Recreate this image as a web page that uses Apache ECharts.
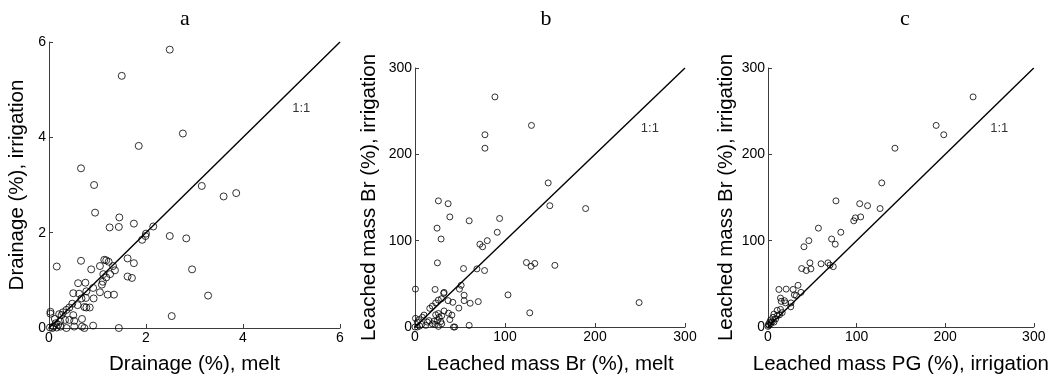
<!DOCTYPE html>
<html>
<head>
<meta charset="utf-8">
<script src="https://cdn.jsdelivr.net/npm/echarts@6/dist/echarts.min.js"></script>
<style>
  html, body { margin: 0; padding: 0; background: #fff; }
  #chart { width: 1052px; height: 380px; }
</style>
</head>
<body>
<div id="chart"></div>
<script>
// panel a: drainage (%)
var drainMelt = [2.49, 1.50, 2.76, 1.85, 0.66, 0.93, 3.15, 3.60, 3.86, 0.95, 1.45, 1.44, 1.25, 1.75, 2.15, 2.00, 1.99, 1.92, 2.49, 2.83,
    2.95, 3.28, 2.53, 1.44, 0.16, 0.66, 1.14, 1.18, 1.23, 1.05, 0.87, 1.32, 1.36, 1.26, 1.12, 1.18, 1.11, 1.09, 1.62, 1.75,
    1.62, 1.71, 0.60, 0.75, 0.91, 0.77, 1.05, 1.21, 1.34, 0.50, 0.62, 0.67, 0.76, 0.92, 0.48, 0.59, 0.73, 0.77, 0.84, 0.42,
    0.36, 0.29, 0.26, 0.21, 0.03, 0.03, 0.50, 0.42, 0.52, 0.68, 0.33, 0.23, 0.12, 0.14, 0.19, 0.09, 0.02, 0.07, 0.36, 0.52,
    0.68, 0.73, 0.91, 0.24, 0.16];
var drainIrr = [5.84, 5.29, 4.08, 3.82, 3.35, 3.00, 2.98, 2.76, 2.83, 2.42, 2.32, 2.12, 2.11, 2.19, 2.13, 1.98, 1.93, 1.85, 1.93, 1.88,
    1.23, 0.68, 0.25, 0.00, 1.29, 1.41, 1.43, 1.42, 1.39, 1.30, 1.23, 1.30, 1.21, 1.13, 1.13, 1.06, 0.97, 0.91, 1.46, 1.36,
    1.08, 1.05, 0.94, 0.95, 0.84, 0.77, 0.75, 0.70, 0.70, 0.73, 0.72, 0.62, 0.63, 0.62, 0.51, 0.48, 0.44, 0.43, 0.43, 0.43,
    0.38, 0.33, 0.27, 0.29, 0.34, 0.30, 0.27, 0.17, 0.15, 0.19, 0.17, 0.14, 0.19, 0.10, 0.07, 0.03, 0.01, 0.00, 0.00, 0.03,
    0.03, 0.00, 0.05, 0.03, 0.01];

// panel b: leached mass Br (%), melt vs irrigation
var brMelt = [88.8, 129.4, 77.7, 77.7, 148.0, 149.8, 189.6, 26.0, 36.8, 38.7, 60.2, 94.0, 24.5, 91.4, 29.0, 80.3, 72.1, 75.1, 24.9, 53.9,
    68.8, 77.3, 123.8, 133.1, 129.0, 155.4, 0.5, 22.3, 49.4, 51.3, 32.3, 31.9, 26.0, 29.4, 36.8, 42.0, 54.6, 54.6, 61.3, 70.3,
    103.3, 249.0, 127.5, 48.7, 60.2, 0.5, 23.0, 19.3, 16.4, 10.0, 8.2, 4.5, 2.6, 0.0, 2.6, 5.2, 7.4, 11.9, 13.8, 15.6,
    19.3, 23.0, 26.0, 26.8, 29.7, 32.3, 37.2, 41.0, 38.7, 24.9, 28.6, 29.7, 26.0, 42.8, 44.2, 22.3, 21.2];
var brIrrB = [266.5, 233.5, 222.7, 207.1, 166.9, 140.5, 137.2, 146.1, 142.8, 127.5, 123.0, 125.7, 114.5, 109.7, 101.9, 100.0, 95.9, 92.9, 74.3, 67.7,
    67.3, 65.4, 74.7, 73.6, 70.3, 71.4, 43.9, 43.5, 43.9, 48.3, 40.1, 39.0, 31.2, 32.7, 30.5, 28.6, 36.8, 30.5, 27.5, 29.4,
    37.2, 28.3, 16.4, 21.9, 1.9, 10.0, 27.9, 24.2, 21.6, 13.8, 11.2, 8.6, 5.6, 0.0, 0.0, 1.1, 3.0, 1.9, 5.6, 7.4,
    3.7, 14.1, 15.6, 11.2, 13.0, 18.6, 16.0, 13.8, 8.6, 7.4, 6.3, 3.7, 0.7, 0.0, 0.0, 3.0, 6.7];

// panel c: leached mass PG (%) vs Br (%), irrigation
var pgIrr = [231.5, 189.8, 198.4, 143.3, 128.4, 76.7, 103.5, 112.4, 126.5, 104.6, 98.6, 96.8, 56.9, 82.2, 46.1, 71.8, 75.9, 40.6, 47.3, 59.9,
    67.7, 70.0, 73.7, 38.0, 43.2, 48.4, 12.3, 20.5, 28.3, 33.9, 37.2, 29.8, 32.0, 14.1, 14.9, 18.6, 26.0, 25.7, 19.7, 14.1,
    10.4, 13.0, 6.7, 5.6, 3.0, 1.9, 0.4, 0.0, 4.8, 8.6, 10.4, 16.0, 1.1, 3.0, 6.7];
var brIrrC = [266.5, 233.5, 222.7, 207.1, 166.9, 146.1, 142.8, 140.5, 137.2, 127.5, 126.4, 123.0, 114.5, 109.7, 100.0, 101.9, 95.9, 92.9, 74.3, 73.2,
    74.3, 71.7, 69.9, 67.7, 65.4, 67.3, 43.5, 43.9, 43.5, 48.3, 40.1, 37.2, 36.4, 33.5, 29.7, 30.5, 27.9, 23.4, 27.9, 20.4,
    19.3, 14.1, 14.9, 11.2, 8.2, 5.6, 3.0, 0.7, 6.3, 9.3, 13.0, 16.7, 1.9, 3.7, 5.6];

var ticksA = [0, 2, 4, 6];
var ticksBC = [0, 100, 200, 300];
var panelTitles = ['a', 'b', 'c'];
var xNames = ['Drainage (%), melt', 'Leached mass Br (%), melt', 'Leached mass PG (%), irrigation'];
var yNames = ['Drainage (%), irrigation', 'Leached mass Br (%), irrigation', 'Leached mass Br (%), irrigation'];
var oneToOnePos = [[5.2, 4.6], [261, 230], [261, 230]];

function zip(xs, ys) {
    var out = [];
    for (var i = 0; i < xs.length; i++) out.push([xs[i], ys[i]]);
    return out;
}

var sans = '"Liberation Sans", Arial, sans-serif';

function makeAxis(idx, ticks, name, gap) {
    return {
        type: 'value',
        gridIndex: idx,
        min: ticks[0],
        max: ticks[ticks.length - 1],
        interval: ticks[1] - ticks[0],
        name: name,
        nameLocation: 'middle',
        nameGap: gap,
        nameTextStyle: { color: '#000', fontSize: 20.5, fontFamily: sans },
        axisLine: { show: true, lineStyle: { color: '#3c3c3c', width: 1 } },
        axisTick: { show: true, inside: true, length: 4, lineStyle: { color: '#3c3c3c' } },
        axisLabel: { color: '#000', fontSize: 14, fontFamily: sans, margin: 3 },
        splitLine: { show: false }
    };
}

var grids = [
    { left: 49, top: 42, width: 291, height: 291 },
    { left: 415, top: 68, width: 270, height: 269 },
    { left: 768, top: 68, width: 271, height: 269 }
];

var xAxes = [
    makeAxis(0, ticksA, xNames[0], 26),
    makeAxis(1, ticksBC, xNames[1], 27),
    makeAxis(2, ticksBC, xNames[2], 27)
];
var yAxes = [
    makeAxis(0, ticksA, yNames[0], 21),
    makeAxis(1, ticksBC, yNames[1], 35),
    makeAxis(2, ticksBC, yNames[2], 31)
];

var pointSets = [zip(drainMelt, drainIrr), zip(brMelt, brIrrB), zip(pgIrr, brIrrC)];
var symSizes = [7, 6, 6];
var series = [];
for (var k = 0; k < 3; k++) {
    var maxV = k === 0 ? ticksA[3] : ticksBC[3];
    series.push({
        type: 'line',
        xAxisIndex: k,
        yAxisIndex: k,
        data: [[0, 0], [maxV, maxV]],
        symbol: 'none',
        lineStyle: { color: '#000', width: 1.4 },
        silent: true,
        z: 2
    });
    series.push({
        type: 'scatter',
        xAxisIndex: k,
        yAxisIndex: k,
        data: pointSets[k],
        symbol: 'circle',
        symbolSize: symSizes[k],
        clip: false,
        itemStyle: { color: 'rgba(0,0,0,0)', borderColor: '#000', borderWidth: 1 },
        z: 3
    });
    series.push({
        type: 'scatter',
        xAxisIndex: k,
        yAxisIndex: k,
        data: [oneToOnePos[k]],
        symbolSize: 0,
        label: {
            show: true,
            position: 'inside',
            formatter: '1:1',
            color: '#000',
            fontSize: 13,
            fontFamily: sans
        },
        silent: true
    });
}

var titleLeft = [180, 541, 900];
var titles = [];
for (var t = 0; t < 3; t++) {
    titles.push({
        text: panelTitles[t],
        left: titleLeft[t],
        top: 3,
        textAlign: 'center',
        textStyle: { fontFamily: '"Liberation Serif", "DejaVu Serif", serif', fontWeight: 'normal', fontSize: 22, color: '#000' }
    });
}

var chart = echarts.init(document.getElementById('chart'), null, { renderer: 'canvas' });
chart.setOption({
    animation: false,
    backgroundColor: '#fff',
    title: titles,
    grid: grids,
    xAxis: xAxes,
    yAxis: yAxes,
    series: series
});
</script>
</body>
</html>
